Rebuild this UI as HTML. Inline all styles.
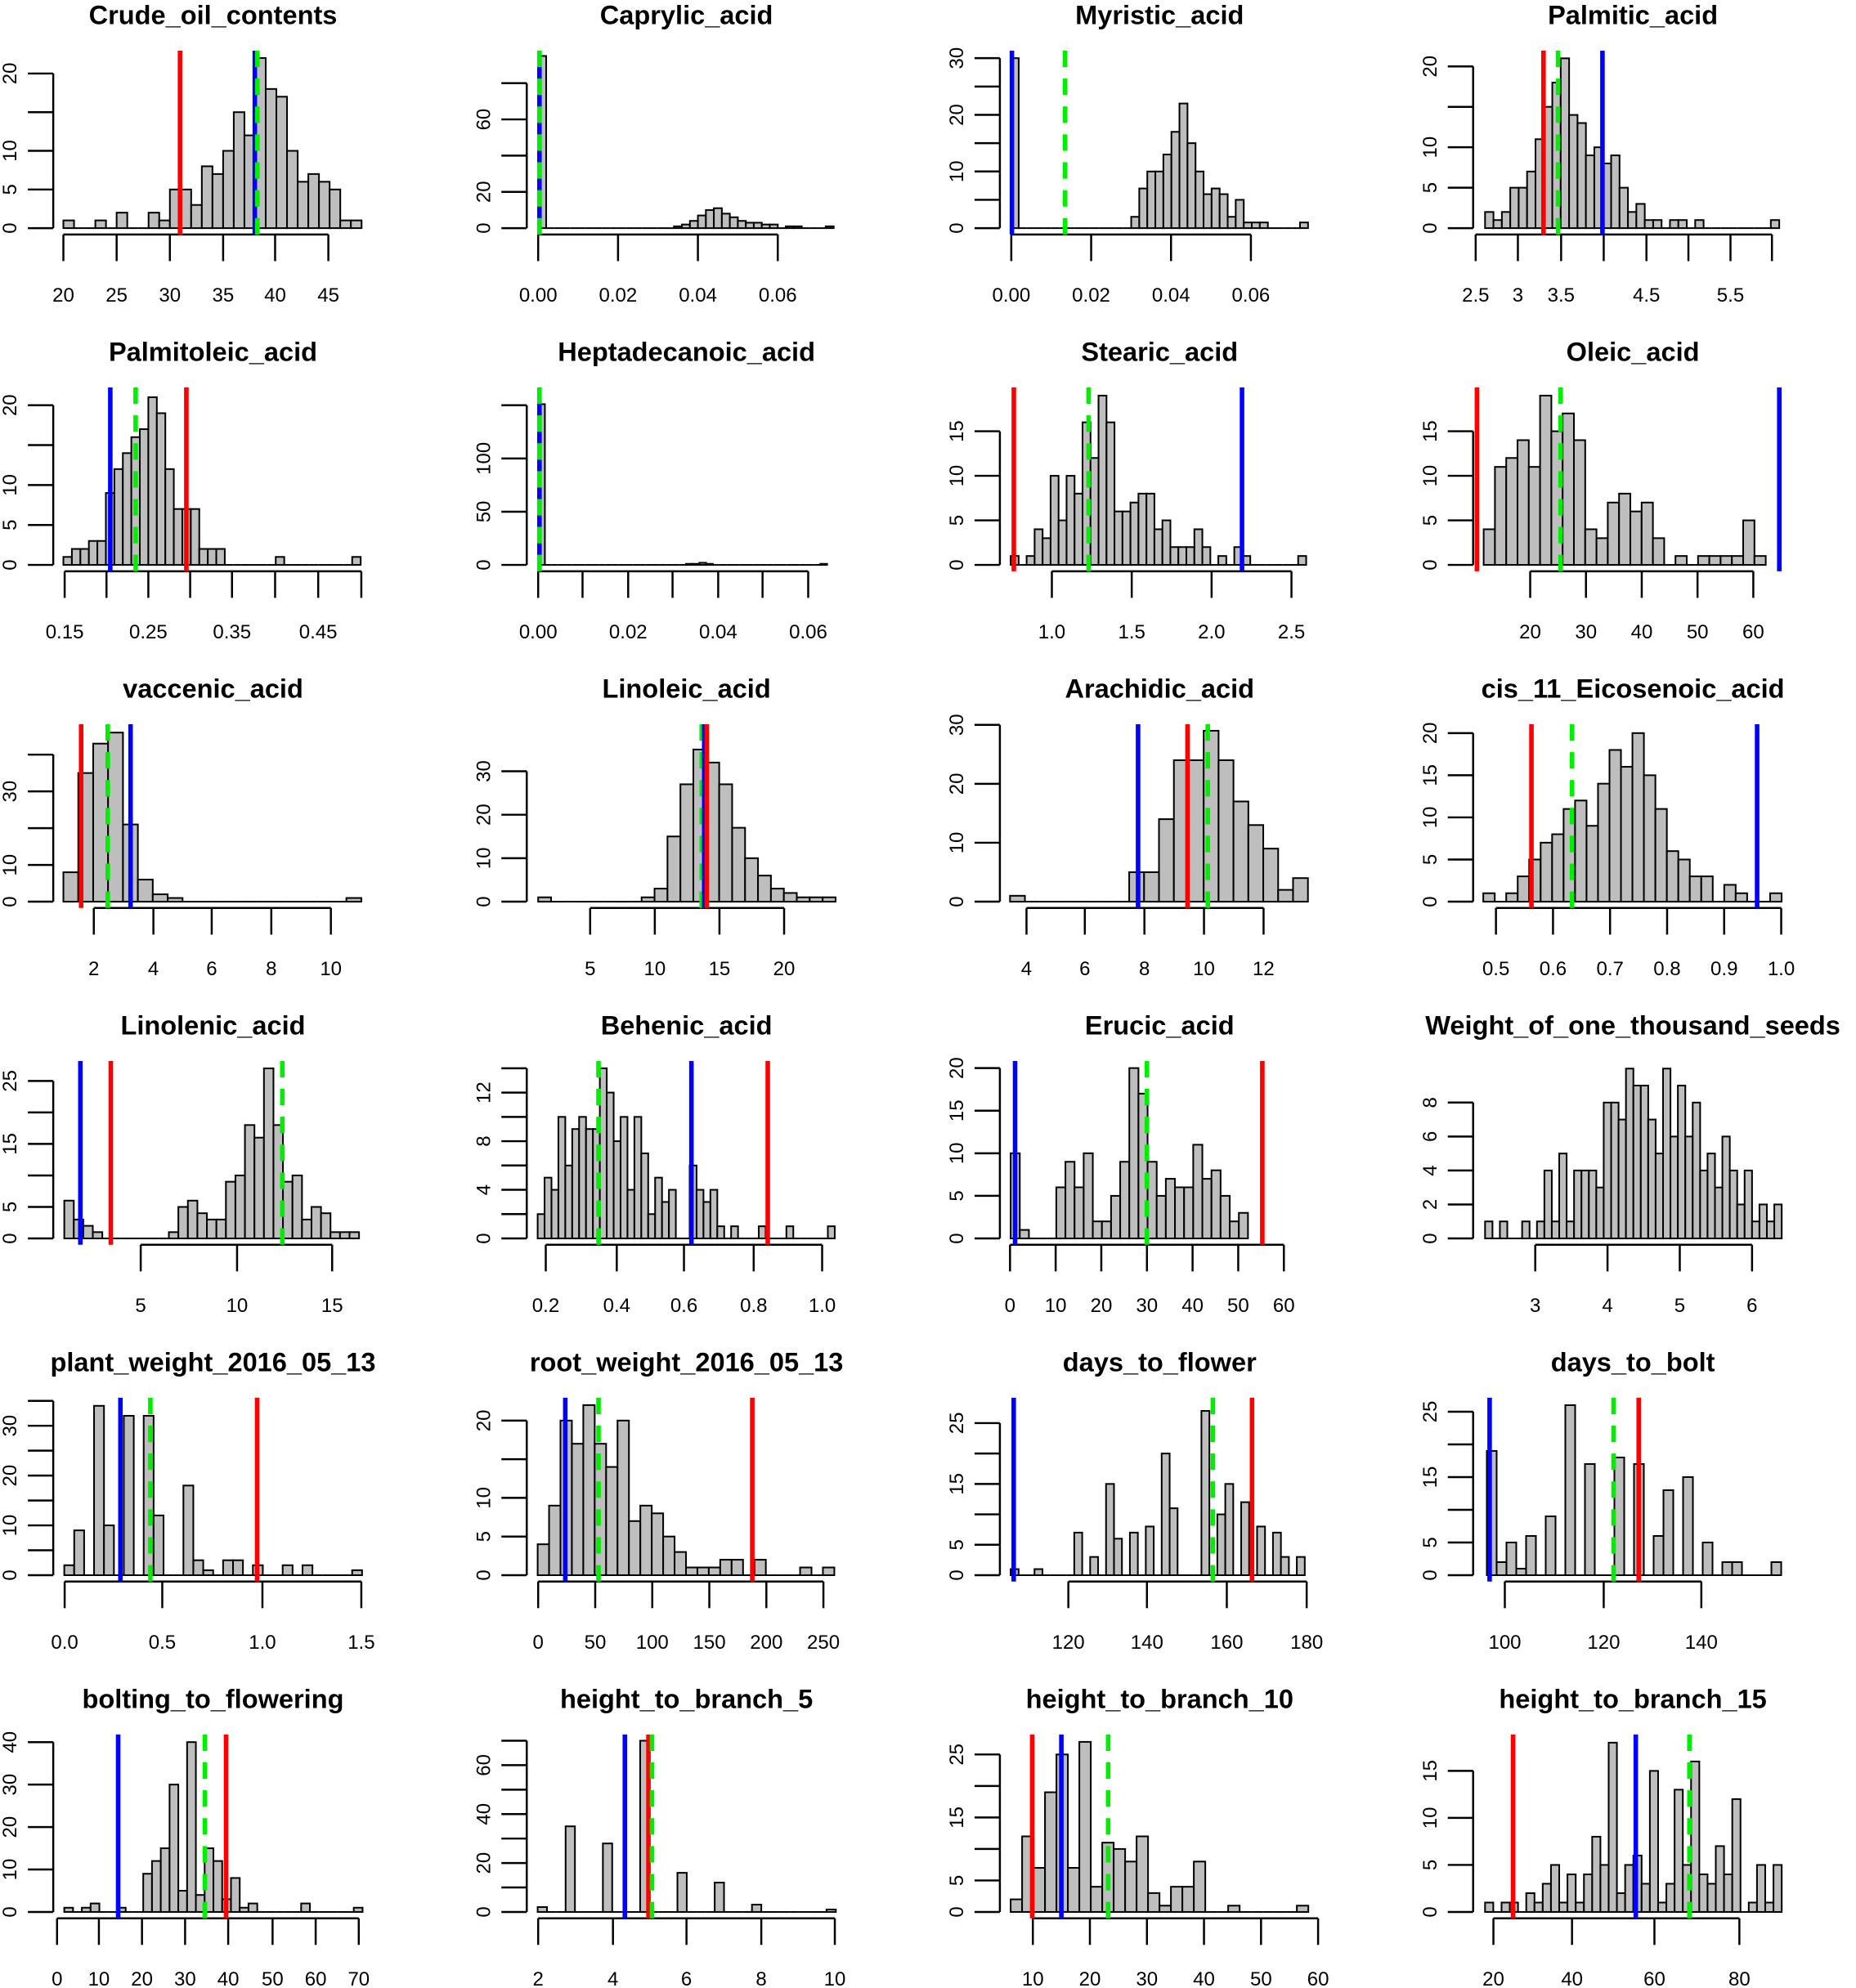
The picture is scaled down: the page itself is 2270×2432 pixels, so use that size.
<!DOCTYPE html>
<html><head><meta charset="utf-8">
<style>html,body{margin:0;padding:0;background:#fff}svg{display:block}</style>
</head><body>
<svg id="s" xmlns="http://www.w3.org/2000/svg" width="2270" height="2432" viewBox="0 0 1464 1568.5" preserveAspectRatio="none" font-family="Liberation Sans, Arial, sans-serif"></svg>
<script>
function S(n,o){var a=[];for(var i=0;i<n;i++)a.push(0);for(var k in o)a[+k]=o[k];return a;}
var P=[
{t:"Crude_oil_contents",pc:6.1,yt:[[0,"0"],[5,"5"],[10,"10"],[15,""],[20,"20"]],xt:[[50,"20"],[92,"25"],[134,"30"],[176,"35"],[217,"40"],[259,"45"]],b0:50,bw:8.4,c:[1,0,0,1,0,2,0,0,2,1,5,5,3,8,7,10,15,12,22,18,17,10,6,7,6,5,1,1],L:[["r",142],["b",201],["g",203]]},
{t:"Caprylic_acid",pc:1.43,yt:[[0,"0"],[20,"20"],[40,""],[60,"60"],[80,""]],xt:[[51,"0.00"],[114,"0.02"],[177,"0.04"],[240,"0.06"]],b0:51,bw:6.3,c:[95,0,0,0,0,0,0,0,0,0,0,0,0,0,0,0,0,1,2,4,7,10,11,8,6,4,3,3,2,2,0,1,1,0,0,0,1],L:[["b",52],["g",52]]},
{t:"Myristic_acid",pc:4.47,yt:[[0,"0"],[5,""],[10,"10"],[15,""],[20,"20"],[25,""],[30,"30"]],xt:[[51,"0.00"],[114,"0.02"],[177,"0.04"],[240,"0.06"]],b0:50.5,bw:6.34,c:S(37,{0:30,15:2,16:7,17:10,18:10,19:13,20:17,21:22,22:15,23:10,24:6,25:7,26:6,27:2,28:5,29:1,30:1,31:1,36:1}),L:[["b",51.5],["g",93.4]]},
{t:"Palmitic_acid",pc:6.38,yt:[[0,"0"],[5,"5"],[10,"10"],[15,""],[20,"20"]],xt:[[44,"2.5"],[77.3,"3"],[111.4,"3.5"],[145,""],[178.7,"4.5"],[211.8,""],[245,"5.5"],[277.7,""]],b0:51.4,bw:6.63,c:S(35,{0:2,1:1,2:2,3:5,4:5,5:7,6:11,7:15,8:18,9:21,10:14,11:13,12:9,13:10,14:8,15:9,16:5,17:2,18:3,19:1,20:1,22:1,23:1,25:1,34:1}),L:[["r",97.5],["g",109],["b",144]]},
{t:"Palmitoleic_acid",pc:6.3,yt:[[0,"0"],[5,"5"],[10,"10"],[15,""],[20,"20"]],xt:[[51,"0.15"],[84,""],[117,"0.25"],[150,""],[183,"0.35"],[217,""],[251,"0.45"],[285,""]],b0:50,bw:6.7,c:[1,2,2,3,3,9,12,14,16,17,21,19,12,7,7,7,2,2,2,0,0,0,0,0,0,1,0,0,0,0,0,0,0,0,1],L:[["b",87],["g",107],["r",147]]},
{t:"Heptadecanoic_acid",pc:0.84,yt:[[0,"0"],[50,"50"],[100,"100"],[150,""]],xt:[[51,"0.00"],[86,""],[122,"0.02"],[157,""],[193,"0.04"],[228,""],[264,"0.06"]],b0:51,bw:5.3,c:[151,0,0,0,0,0,0,0,0,0,0,0,0,0,0,0,0,0,0,0,0,0,1,1,2,1,0,0,0,0,0,0,0,0,0,0,0,0,0,0,0,0,1],L:[["b",52],["g",52]]},
{t:"Stearic_acid",pc:7.03,yt:[[0,"0"],[5,"5"],[10,"10"],[15,"15"]],xt:[[83,"1.0"],[146,"1.5"],[209,"2.0"],[272,"2.5"]],b0:50.5,bw:6.3,c:S(37,{0:1,2:1,3:4,4:3,5:10,6:5,7:10,8:8,9:16,10:12,11:19,12:16,13:6,14:6,15:7,16:8,17:8,18:4,19:5,20:2,21:2,22:2,23:4,24:2,26:1,28:2,29:1,36:1}),L:[["r",53],["g",112],["b",233]]},
{t:"Oleic_acid",pc:7.03,yt:[[0,"0"],[5,"5"],[10,"10"],[15,"15"]],xt:[[87,"20"],[131,"30"],[175,"40"],[219,"50"],[263,"60"]],b0:50.3,bw:8.9,c:S(25,{0:4,1:11,2:12,3:14,4:11,5:19,6:15,7:17,8:14,9:4,10:3,11:7,12:8,13:6,14:7,15:3,17:1,19:1,20:1,21:1,22:1,23:5,24:1}),L:[["r",45],["g",111],["b",283.5]]},
{t:"vaccenic_acid",pc:2.9,yt:[[0,"0"],[10,"10"],[20,""],[30,"30"],[40,""]],xt:[[74,"2"],[121,"4"],[167,"6"],[214,"8"],[261,"10"]],b0:50,bw:11.75,c:[8,35,43,46,21,6,2,1,0,0,0,0,0,0,0,0,0,0,0,1],L:[["r",64],["g",85],["b",103]]},
{t:"Linoleic_acid",pc:3.43,yt:[[0,"0"],[10,"10"],[20,"20"],[30,"30"]],xt:[[92,"5"],[143,"10"],[194,"15"],[245,"20"]],b0:51,bw:10.2,c:[1,0,0,0,0,0,0,0,1,3,15,27,35,32,27,17,10,6,3,2,1,1,1],L:[["g",180],["b",182],["r",184]]},
{t:"Arachidic_acid",pc:4.65,yt:[[0,"0"],[10,"10"],[20,"20"],[30,"30"]],xt:[[63,"4"],[109,"6"],[156,"8"],[203,"10"],[250,"12"]],b0:50,bw:11.75,c:[1,0,0,0,0,0,0,0,5,5,14,24,24,29,24,17,13,9,2,4],L:[["b",151],["r",190],["g",206]]},
{t:"cis_11_Eicosenoic_acid",pc:6.65,yt:[[0,"0"],[5,"5"],[10,"10"],[15,"15"],[20,"20"]],xt:[[60,"0.5"],[105,"0.6"],[150,"0.7"],[195,"0.8"],[240,"0.9"],[285,"1.0"]],b0:50,bw:9.05,c:[1,0,1,3,5,7,8,11,12,9,14,18,16,20,15,11,6,5,3,3,0,2,1,0,0,1],L:[["r",88],["g",120],["b",266]]},
{t:"Linolenic_acid",pc:4.97,yt:[[0,"0"],[5,"5"],[10,""],[15,"15"],[20,""],[25,"25"]],xt:[[111,"5"],[187,"10"],[262,"15"]],b0:50.7,bw:7.5,c:S(31,{0:6,1:3,2:2,3:1,11:1,12:5,13:6,14:4,15:3,16:3,17:9,18:10,19:18,20:16,21:27,22:18,23:9,24:10,25:3,26:5,27:4,28:1,29:1,30:1}),L:[["b",63.4],["r",87.4],["g",222.7]]},
{t:"Behenic_acid",pc:9.59,yt:[[0,"0"],[2,""],[4,"4"],[6,""],[8,"8"],[10,""],[12,"12"],[14,""]],xt:[[57,"0.2"],[113,"0.4"],[166,"0.6"],[221,"0.8"],[275,"1.0"]],b0:50.6,bw:5.45,c:S(43,{0:2,1:5,2:4,3:10,4:6,5:9,6:10,7:9,8:9,9:14,10:12,11:8,12:10,13:4,14:10,15:7,16:2,17:5,18:3,19:4,22:6,23:4,24:3,25:4,26:1,28:1,32:1,36:1,42:1}),L:[["g",98.6],["b",171.9],["r",232.1]]},
{t:"Erucic_acid",pc:6.72,yt:[[0,"0"],[5,"5"],[10,"10"],[15,"15"],[20,"20"]],xt:[[50,"0"],[86,"10"],[122,"20"],[158,"30"],[194,"40"],[230,"50"],[266,"60"]],b0:50.5,bw:7.2,c:S(26,{0:10,1:1,5:6,6:9,7:6,8:10,9:2,10:2,11:5,12:9,13:20,14:17,15:9,16:5,17:7,18:6,19:6,20:11,21:7,22:8,23:5,24:2,25:3}),L:[["b",54],["g",158],["r",249]]},
{t:"Weight_of_one_thousand_seeds",pc:13.4,yt:[[0,"0"],[2,"2"],[4,"4"],[6,"6"],[8,"8"]],xt:[[91,"3"],[148,"4"],[205,"5"],[262,"6"]],b0:51.4,bw:5.85,c:S(40,{0:1,2:1,5:1,7:1,8:4,9:1,10:5,11:1,12:4,13:4,14:4,15:3,16:8,17:8,18:7,19:10,20:9,21:9,22:7,23:5,24:10,25:6,26:9,27:6,28:8,29:4,30:5,31:3,32:6,33:4,34:2,35:4,36:1,37:2,38:1,39:2}),L:[]},
{t:"plant_weight_2016_05_13",pc:3.93,yt:[[0,"0"],[5,""],[10,"10"],[15,""],[20,"20"],[25,""],[30,"30"],[35,""]],xt:[[51,"0.0"],[128,"0.5"],[207,"1.0"],[285,"1.5"]],b0:50.7,bw:7.83,c:S(30,{0:2,1:9,3:34,4:10,6:32,8:32,9:12,12:18,13:3,14:1,16:3,17:3,19:2,22:2,24:2,29:1}),L:[["b",95],["g",118.6],["r",202.8]]},
{t:"root_weight_2016_05_13",pc:6.1,yt:[[0,"0"],[5,"5"],[10,"10"],[15,""],[20,"20"]],xt:[[51,"0"],[96,"50"],[141,"100"],[186,"150"],[231,"200"],[276,"250"]],b0:50.6,bw:9,c:S(26,{0:4,1:9,2:20,3:17,4:22,5:17,6:14,7:20,8:7,9:9,10:8,11:5,12:3,13:1,14:1,15:1,16:2,17:2,19:2,23:1,25:1}),L:[["b",72.4],["g",98.6],["r",219.9]]},
{t:"days_to_flower",pc:4.8,yt:[[0,"0"],[5,"5"],[10,""],[15,"15"],[20,""],[25,"25"]],xt:[[96,"120"],[158,"140"],[221,"160"],[284,"180"]],b0:50.5,bw:6.27,c:S(37,{0:1,3:1,8:7,10:3,12:15,13:6,15:7,17:8,19:20,20:11,24:27,26:10,27:15,29:12,31:8,33:7,34:3,36:3}),L:[["b",52.9],["g",210],["r",240.9]]},
{t:"days_to_bolt",pc:5.16,yt:[[0,"0"],[5,"5"],[10,""],[15,"15"],[20,""],[25,"25"]],xt:[[67,"100"],[145,"120"],[222,"140"]],b0:52.8,bw:7.74,c:S(30,{0:19,1:2,2:5,3:1,4:6,6:9,8:26,10:17,13:18,15:17,17:6,18:13,20:15,22:5,24:2,25:2,29:2}),L:[["b",55],["g",152.8],["r",172.6]]},
{t:"bolting_to_flowering",pc:3.35,yt:[[0,"0"],[10,"10"],[20,"20"],[30,"30"],[40,"40"]],xt:[[45,"0"],[78,"10"],[112,"20"],[146,"30"],[180,"40"],[215,"50"],[249,"60"],[283,"70"]],b0:50.7,bw:6.92,c:S(34,{0:1,2:1,3:2,6:1,9:9,10:12,11:15,12:30,13:5,14:40,15:4,16:15,17:12,18:3,19:8,20:1,21:2,27:2,33:1}),L:[["b",93.2],["g",161.6],["r",178.3]]},
{t:"height_to_branch_5",pc:1.93,yt:[[0,"0"],[10,""],[20,"20"],[30,""],[40,"40"],[50,""],[60,"60"],[70,""]],xt:[[51,"2"],[110,"4"],[168,"6"],[227,"8"],[285,"10"]],b0:50.6,bw:7.35,c:S(32,{0:2,3:35,7:28,11:70,15:16,19:12,23:3,31:1}),L:[["b",119.4],["r",138],["g",140.8]]},
{t:"height_to_branch_10",pc:4.97,yt:[[0,"0"],[5,"5"],[10,""],[15,"15"],[20,""],[25,"25"]],xt:[[68,"10"],[113,"20"],[158,"30"],[203,"40"],[248,"50"],[293,"60"]],b0:50.5,bw:9.03,c:S(26,{0:2,1:12,2:7,3:19,4:25,5:7,6:27,7:4,8:11,9:10,10:8,11:12,12:3,13:1,14:4,15:4,16:8,19:1,25:1}),L:[["r",67.5],["b",90.5],["g",127.4]]},
{t:"height_to_branch_15",pc:7.42,yt:[[0,"0"],[5,"5"],[10,"10"],[15,"15"]],xt:[[58,"20"],[120,"40"],[185,"60"],[252,"80"]],b0:51.4,bw:6.5,c:[1,0,1,1,0,2,1,3,5,1,4,1,4,8,5,18,2,5,6,3,15,1,3,13,5,16,4,3,7,4,12,0,1,5,1,5],L:[["r",73.5],["b",170.3],["g",212.6]]}
];
var CO=[0,373.5,746.7,1120],RO=[0,265.7,531.4,797.1,1062.8,1328.5];
var col={r:"#ff0000",b:"#0000ff",g:"#00ee00"};
var h="";
P.forEach(function(p,i){
 var ox=CO[i%4],oy=RO[Math.floor(i/4)];
 h+='<g transform="translate('+ox+','+oy+')">';
 h+='<text x="168" y="19" text-anchor="middle" font-size="21" font-weight="bold">'+p.t+'</text>';
 var B=180;
 p.c.forEach(function(c,k){ var x=p.b0+k*p.bw; if(c>0){var hh=c*p.pc;
  h+='<rect x="'+x.toFixed(2)+'" y="'+(B-hh).toFixed(2)+'" width="'+p.bw+'" height="'+hh.toFixed(2)+'" fill="#bebebe" stroke="#000" stroke-width="1.3"/>';}
  else { h+='<line x1="'+x+'" x2="'+(x+p.bw)+'" y1="'+B+'" y2="'+B+'" stroke="#000" stroke-width="1.3"/>'; }
 });
 var top=B-p.yt[p.yt.length-1][0]*p.pc;
 h+='<line x1="42" x2="42" y1="'+B+'" y2="'+top+'" stroke="#000" stroke-width="1.6"/>';
 p.yt.forEach(function(t){var y=B-t[0]*p.pc;
  h+='<line x1="22" x2="42" y1="'+y+'" y2="'+y+'" stroke="#000" stroke-width="1.6"/>';
  if(t[1]) h+='<text transform="translate(13,'+y+') rotate(-90)" text-anchor="middle" font-size="15.5">'+t[1]+'</text>';});
 var x0=p.xt[0][0],x1=p.xt[p.xt.length-1][0];
 h+='<line x1="'+x0+'" x2="'+x1+'" y1="185" y2="185" stroke="#000" stroke-width="1.6"/>';
 p.xt.forEach(function(t){h+='<line x1="'+t[0]+'" x2="'+t[0]+'" y1="185" y2="206" stroke="#000" stroke-width="1.6"/>';
  if(t[1]) h+='<text x="'+t[0]+'" y="238" text-anchor="middle" font-size="15.5">'+t[1]+'</text>';});
 p.L.forEach(function(l){h+='<line x1="'+l[1]+'" x2="'+l[1]+'" y1="40" y2="185" stroke="'+col[l[0]]+'" stroke-width="3.6"'+(l[0]=="g"?' stroke-dasharray="13,9"':'')+'/>';});
 h+='</g>';
});
document.getElementById("s").innerHTML=h;
</script>
</body></html>
